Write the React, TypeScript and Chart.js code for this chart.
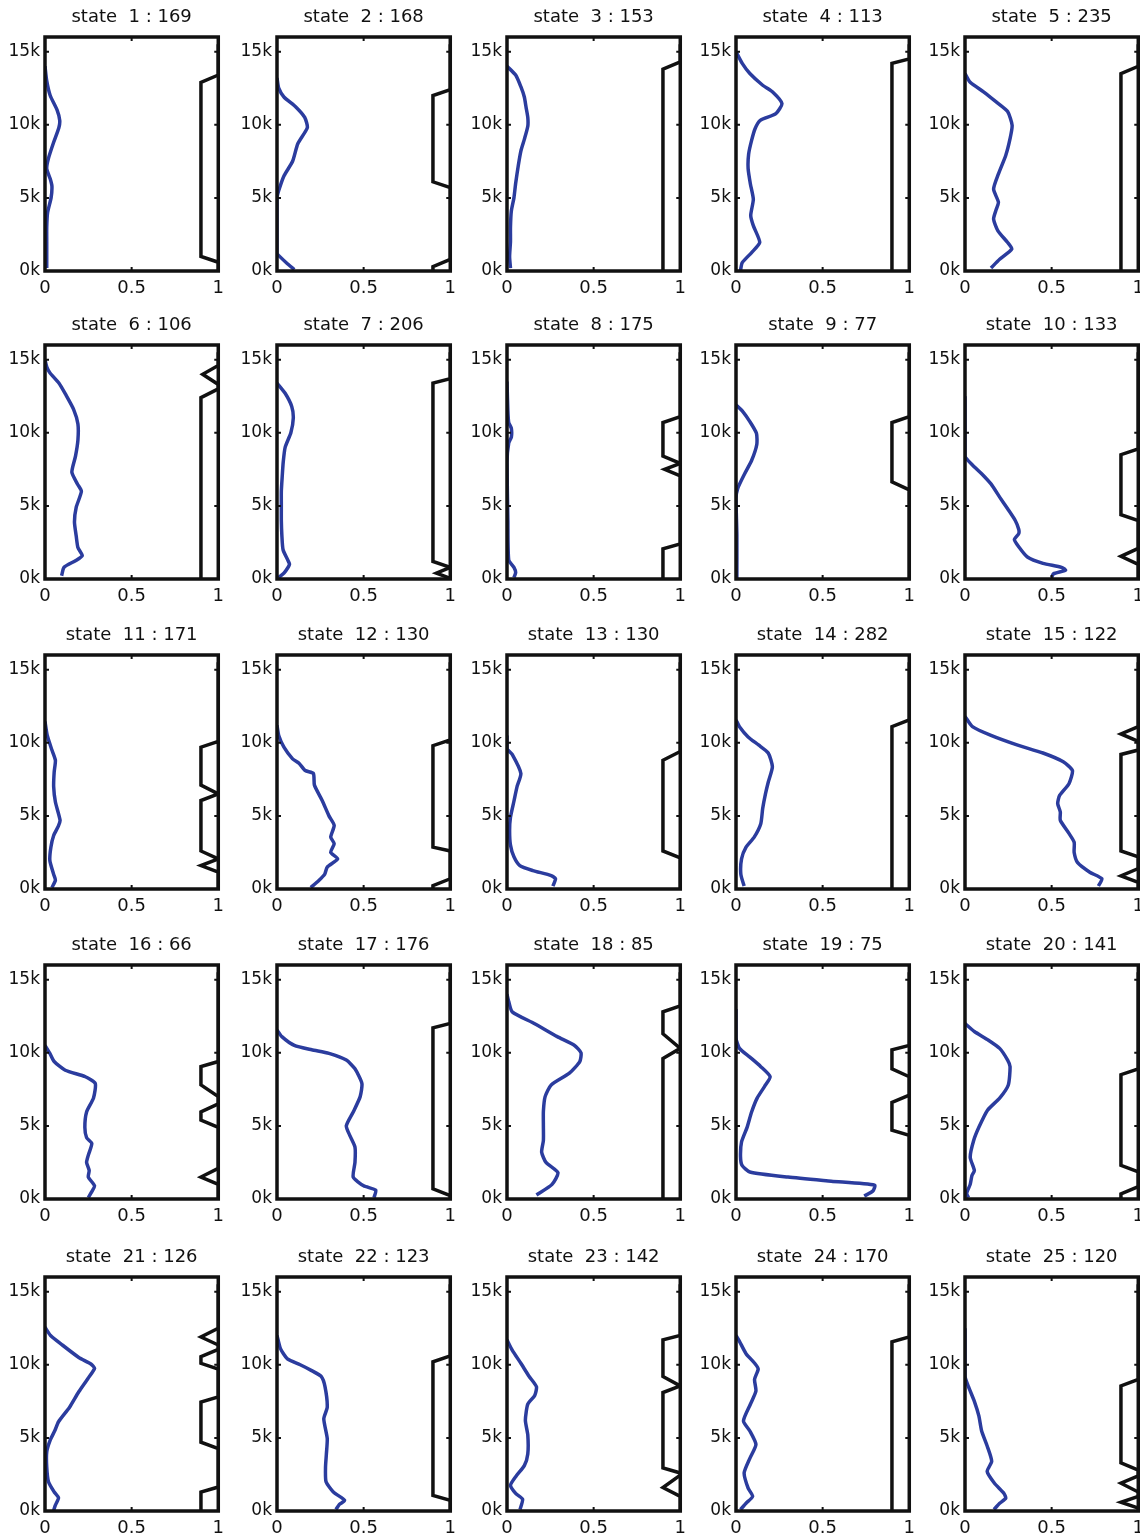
import React, { useEffect, useRef } from "react";
import { Chart, registerables } from "chart.js";

Chart.register(...registerables);

type P = [number, number][];

// ---- data (x = fraction, y = altitude in thousands) ----
const stateCounts = [169, 168, 153, 113, 235, 106, 206, 175, 77, 133, 171, 130, 130, 282, 122, 66, 176, 85, 75, 141, 126, 123, 142, 170, 120];
const xTicks = [0, 0.5, 1];
const xTickLabels = ["0", "0.5", "1"];
const yTicks = [0, 5, 10, 15];
const yTickLabels = ["0k", "5k", "10k", "15k"];

const blue1: P = [[0,14],[0.01,13],[0.03,12],[0.07,11],[0.085,10.3],[0.08,9.8],[0.05,8.8],[0.02,7.7],[0.01,7],[0.03,6.3],[0.04,5.8],[0.035,5],[0.015,4],[0.01,3],[0.01,2],[0.01,1],[0.01,0.2]];
const black1: P = [[1,15.5],[1,13.4],[0.9,12.9],[0.9,1.0],[1,0.6],[1,0]];
const blue2: P = [[0,13.2],[0.01,12.5],[0.04,11.9],[0.11,11.2],[0.16,10.5],[0.175,9.8],[0.12,8.7],[0.09,7.5],[0.04,6.5],[0.01,5.5],[0,5],[0,3],[0,1.2],[0.015,1],[0.06,0.5],[0.1,0.1]];
const black2: P = [[1,15.5],[1,12.4],[0.9,12.0],[0.9,6.1],[1,5.7],[1,0.8],[0.9,0.3],[0.9,0]];
const blue3: P = [[0,14],[0.05,13.4],[0.08,12.6],[0.1,11.9],[0.11,11.2],[0.12,10.5],[0.12,9.9],[0.1,9],[0.08,8.2],[0.065,7.2],[0.05,6],[0.04,5],[0.025,4.1],[0.02,3],[0.02,2],[0.015,1],[0.02,0.2]];
const black3: P = [[1,15.5],[1,14.3],[0.9,13.8],[0.9,0]];
const blue4: P = [[0,15],[0.036,14.2],[0.08,13.5],[0.154,12.7],[0.21,12.25],[0.265,11.45],[0.23,10.76],[0.14,10.3],[0.11,9.73],[0.09,8.93],[0.073,8],[0.07,7],[0.083,5.95],[0.1,4.9],[0.085,3.8],[0.1,3.1],[0.137,1.95],[0.09,1.26],[0.036,0.57],[0.026,0.05]];
const black4: P = [[1,15.5],[1,14.5],[0.9,14.2],[0.9,0]];
const blue5: P = [[0,13.5],[0.03,12.9],[0.107,12.25],[0.18,11.56],[0.246,10.9],[0.272,9.96],[0.26,9.05],[0.235,7.9],[0.193,6.64],[0.165,5.6],[0.193,4.7],[0.18,4.2],[0.165,3.55],[0.19,2.75],[0.246,1.95],[0.27,1.5],[0.2,0.8],[0.15,0.2]];
const black5: P = [[1,15.5],[1,14],[0.9,13.5],[0.9,0]];
const blue6: P = [[0,15],[0.01,14.5],[0.028,14.1],[0.08,13.4],[0.12,12.6],[0.165,11.6],[0.19,10.6],[0.19,9.5],[0.176,8.4],[0.155,7.3],[0.187,6.5],[0.21,6.0],[0.18,4.9],[0.17,3.9],[0.18,2.95],[0.19,2.15],[0.215,1.6],[0.176,1.25],[0.11,0.8],[0.096,0.23]];
const black6: P = [[1,15.5],[1,14.6],[0.91,14.0],[1,13.3],[1,13.0],[0.9,12.4],[0.9,0]];
const blue7: P = [[0,13.4],[0.047,12.7],[0.085,11.8],[0.094,11],[0.08,10],[0.047,9],[0.036,8],[0.03,7],[0.025,6],[0.025,5],[0.025,4],[0.028,3],[0.035,2],[0.064,1.25],[0.072,1.0],[0.04,0.4],[0.01,0.1]];
const black7: P = [[1,15.5],[1,13.7],[0.9,13.4],[0.9,1.2],[1,0.8],[0.92,0.4],[1,0.05]];
const blue8: P = [[0,13.5],[0.005,11.5],[0.01,10.7],[0.025,10.3],[0.025,9.7],[0.01,9.3],[0,8],[0.005,4],[0.01,1.3],[0.04,0.8],[0.05,0.45],[0.04,0.1]];
const black8: P = [[1,15.5],[1,11.1],[0.9,10.7],[0.9,8.4],[1,7.9],[0.91,7.5],[1,7.05],[1,2.4],[0.9,2.06],[0.9,0]];
const blue9: P = [[0,11.9],[0.036,11.5],[0.08,10.76],[0.118,9.96],[0.12,9.2],[0.09,8.1],[0.05,7.2],[0.01,6.2],[0,5.5],[0.005,3],[0.005,0]];
const black9: P = [[1,15.5],[1,11.1],[0.9,10.7],[0.9,6.64],[1,6.1],[1,0]];
const blue10: P = [[0,12.5],[0,8.4],[0.043,7.8],[0.096,7.2],[0.15,6.5],[0.2,5.6],[0.246,4.8],[0.29,4.0],[0.31,3.4],[0.31,3.1],[0.285,2.7],[0.31,2.2],[0.36,1.5],[0.45,1.07],[0.557,0.8],[0.58,0.6],[0.51,0.35],[0.5,0.1]];
const black10: P = [[1,15.5],[1,8.9],[0.9,8.5],[0.9,4.4],[1,4.0],[1,2.1],[0.9,1.55],[1,1.0],[1,0]];
const blue11: P = [[0,11.45],[0.013,10.5],[0.04,9.5],[0.06,8.8],[0.053,8],[0.05,7],[0.06,5.95],[0.087,4.7],[0.077,4.3],[0.05,3.66],[0.034,2.86],[0.028,1.95],[0.05,1.0],[0.06,0.6],[0.04,0.1]];
const black11: P = [[1,15.5],[1,10.1],[0.9,9.7],[0.9,7.1],[1,6.5],[0.9,6.05],[0.9,2.6],[1,2.06],[0.9,1.6],[1,1.15],[1,0]];
const blue12: P = [[0,11.2],[0.01,10.5],[0.04,9.7],[0.09,8.9],[0.127,8.6],[0.163,8.1],[0.21,7.9],[0.216,7.1],[0.26,6.07],[0.3,5.0],[0.33,4.35],[0.31,3.55],[0.33,3.1],[0.31,2.5],[0.35,2.06],[0.29,1.5],[0.275,1.0],[0.24,0.57],[0.195,0.1]];
const black12: P = [[1,15.5],[1,10.2],[0.9,9.8],[0.9,2.86],[1,2.6],[1,0.7],[0.9,0.23],[0.9,0]];
const blue13: P = [[0,10.5],[0,9.6],[0.03,9.2],[0.08,7.9],[0.058,7.0],[0.04,6.0],[0.02,4.9],[0.015,4.0],[0.02,3.0],[0.04,2.2],[0.074,1.6],[0.149,1.26],[0.255,0.92],[0.28,0.7],[0.265,0.2]];
const black13: P = [[1,15.5],[1,9.4],[0.9,8.8],[0.9,2.6],[1,2.13],[1,0]];
const blue14: P = [[0,11.56],[0.02,11.1],[0.07,10.4],[0.13,9.85],[0.186,9.3],[0.21,8.36],[0.186,7.3],[0.17,6.5],[0.154,5.5],[0.143,4.47],[0.105,3.55],[0.058,2.86],[0.032,2.06],[0.028,1.0],[0.047,0.2]];
const black14: P = [[1,15.5],[1,11.56],[0.9,11.1],[0.9,0]];
const blue15: P = [[0,11.8],[0.043,11.1],[0.15,10.5],[0.3,9.85],[0.45,9.3],[0.567,8.7],[0.62,8.1],[0.6,7.2],[0.546,6.4],[0.535,5.84],[0.55,5.27],[0.55,4.7],[0.6,3.8],[0.63,3.2],[0.63,2.5],[0.65,1.8],[0.72,1.15],[0.79,0.7],[0.77,0.2]];
const black15: P = [[1,15.5],[1,11.1],[0.9,10.6],[1,10.1],[1,9.5],[0.9,9.2],[0.9,2.6],[1,2.2],[1,1.4],[0.9,0.9],[1,0.45],[1,0]];
const blue16: P = [[0,10.5],[0.028,9.96],[0.053,9.4],[0.117,8.8],[0.233,8.36],[0.29,7.9],[0.28,6.9],[0.24,5.95],[0.23,4.9],[0.24,4.2],[0.27,3.8],[0.25,3.0],[0.24,2.5],[0.255,1.95],[0.25,1.5],[0.286,0.9],[0.27,0.5],[0.25,0.1]];
const black16: P = [[1,15.5],[1,9.4],[0.9,9.05],[0.9,7.8],[1,7.0],[1,6.5],[0.9,5.95],[0.9,5.4],[1,4.9],[1,2.1],[0.9,1.5],[1,1.0],[1,0]];
const blue17: P = [[0,11.56],[0.028,11.1],[0.1,10.5],[0.2,10.2],[0.3,9.96],[0.4,9.5],[0.45,8.9],[0.49,7.9],[0.48,7.0],[0.44,5.95],[0.4,5.0],[0.42,4.35],[0.45,3.55],[0.45,2.5],[0.44,1.5],[0.5,0.9],[0.57,0.6],[0.56,0.1]];
const black17: P = [[1,15.5],[1,12.0],[0.9,11.7],[0.9,0.7],[1,0.23],[1,0]];
const blue18: P = [[0,14],[0.01,13.5],[0.03,12.8],[0.157,12.0],[0.29,11.1],[0.39,10.5],[0.427,10.0],[0.42,9.4],[0.36,8.6],[0.255,7.8],[0.22,7.0],[0.21,6.0],[0.21,5.0],[0.21,4.0],[0.2,3.2],[0.225,2.5],[0.294,1.8],[0.26,1.0],[0.17,0.27]];
const black18: P = [[1,15.5],[1,13.2],[0.9,12.8],[0.9,11.3],[1,10.3],[0.9,9.6],[0.9,0]];
const blue19: P = [[0,13],[0,11.0],[0.02,10.3],[0.08,9.7],[0.143,9.05],[0.197,8.36],[0.165,7.7],[0.122,6.9],[0.09,5.95],[0.064,4.9],[0.032,3.9],[0.026,2.9],[0.035,2.3],[0.08,1.85],[0.3,1.5],[0.55,1.22],[0.8,0.95],[0.79,0.55],[0.74,0.2]];
const black19: P = [[1,15.5],[1,10.5],[0.9,10.2],[0.9,8.9],[1,8.36],[1,7.1],[0.9,6.6],[0.9,4.7],[1,4.35],[1,0]];
const blue20: P = [[0,12.0],[0.054,11.45],[0.13,10.9],[0.2,10.3],[0.246,9.5],[0.26,9.05],[0.25,7.8],[0.2,6.9],[0.13,6.07],[0.08,4.9],[0.05,4.0],[0.03,2.86],[0.054,1.95],[0.04,1.6],[0.03,1.0],[0.01,0.4],[0.02,0.1]];
const black20: P = [[1,15.5],[1,8.9],[0.9,8.5],[0.9,2.3],[1,1.85],[1,0.85],[0.9,0.35],[0.9,0]];
const blue21: P = [[0,12.56],[0.032,12.0],[0.1,11.35],[0.195,10.5],[0.265,10.05],[0.286,9.75],[0.248,9.06],[0.195,8.15],[0.142,7.1],[0.078,6.1],[0.057,5.5],[0.03,4.84],[0.01,4.04],[0.01,3],[0.02,2.0],[0.053,1.3],[0.078,0.9],[0.06,0.4],[0.05,0.05]];
const black21: P = [[1,15.5],[1,12.5],[0.9,11.9],[1,11.35],[1,11.05],[0.9,10.55],[0.9,10.1],[1,9.7],[1,7.8],[0.9,7.45],[0.9,4.7],[1,4.27],[1,1.64],[0.9,1.3],[0.9,0]];
const blue22: P = [[0,12.0],[0.02,11.1],[0.06,10.4],[0.134,10.0],[0.2,9.6],[0.255,9.2],[0.277,8.5],[0.29,7.1],[0.27,6.3],[0.29,4.95],[0.285,3.9],[0.28,3.0],[0.283,2.0],[0.325,1.3],[0.39,0.73],[0.36,0.45],[0.34,0.1]];
const black22: P = [[1,15.5],[1,10.6],[0.9,10.2],[0.9,1.07],[1,0.73],[1,0]];
const blue23: P = [[0,11.7],[0.03,11],[0.08,10.1],[0.128,9.2],[0.17,8.5],[0.16,7.9],[0.12,7.3],[0.106,6.2],[0.12,5.2],[0.12,3.9],[0.1,3.1],[0.053,2.4],[0.02,1.76],[0.05,1.2],[0.09,0.8],[0.075,0.1]];
const black23: P = [[1,15.5],[1,12.0],[0.9,11.7],[0.9,9.2],[1,8.55],[0.9,8.1],[0.9,2.95],[1,2.6],[1,2.45],[0.9,1.6],[1,1.0],[1,0]];
const blue24: P = [[0,12.0],[0.02,11.6],[0.058,10.76],[0.11,10.07],[0.128,9.7],[0.107,9.0],[0.115,8.2],[0.083,7.3],[0.043,6.16],[0.08,5.47],[0.115,4.55],[0.08,3.6],[0.047,2.6],[0.07,1.56],[0.096,1.0],[0.058,0.53],[0.026,0.1]];
const black24: P = [[1,15.5],[1,11.9],[0.9,11.56],[0.9,0]];
const blue25: P = [[0,12.5],[0,9.2],[0.02,8.5],[0.054,7.5],[0.08,6.5],[0.096,5.47],[0.128,4.44],[0.154,3.4],[0.128,2.7],[0.17,1.9],[0.225,1.2],[0.235,0.87],[0.2,0.53],[0.167,0.1]];
const black25: P = [[1,15.5],[1,9.0],[0.9,8.55],[0.9,3.3],[1,2.8],[1,2.4],[0.9,1.9],[1,1.3],[1,1.0],[0.9,0.6],[1,0.2],[1,0]];

const blueProfiles: P[] = [blue1, blue2, blue3, blue4, blue5, blue6, blue7, blue8, blue9, blue10, blue11, blue12, blue13, blue14, blue15, blue16, blue17, blue18, blue19, blue20, blue21, blue22, blue23, blue24, blue25];
const blackProfiles: P[] = [black1, black2, black3, black4, black5, black6, black7, black8, black9, black10, black11, black12, black13, black14, black15, black16, black17, black18, black19, black20, black21, black22, black23, black24, black25];

// ---- layout ----
const COL_LEFT = [45, 277, 507, 736, 965];
const ROW_TOP = [37, 345, 655, 965, 1277];
const PLOT_W = 175;
const PLOT_H = 234;
const LEFT_GUTTER = 44;
const TITLE_H = 35;
const BOTTOM_H = 32;
const RIGHT_PAD = 11;
const CANVAS_W = LEFT_GUTTER + PLOT_W + RIGHT_PAD;
const CANVAS_H = TITLE_H + PLOT_H + BOTTOM_H;

const FONT = "'DejaVu Sans', 'Liberation Sans', Arial, sans-serif";
const BLUE = "#2b3c9e";
const INK = "#111111";
const TEXT = "#111111";

const framePlugin = {
  id: "frame",
  afterDraw(chart: any) {
    const { ctx, chartArea, scales } = chart;
    const { left, top, right, bottom } = chartArea;
    ctx.save();
    ctx.strokeStyle = INK;
    ctx.lineWidth = 3.5;
    ctx.strokeRect(left, top, right - left, bottom - top);
    ctx.lineWidth = 2;
    ctx.beginPath();
    for (const v of xTicks) {
      const px = scales.x.getPixelForValue(v);
      ctx.moveTo(px, bottom);
      ctx.lineTo(px, bottom - 4);
      ctx.moveTo(px, top);
      ctx.lineTo(px, top + 4);
    }
    for (const v of yTicks) {
      const py = scales.y.getPixelForValue(v);
      ctx.moveTo(left, py);
      ctx.lineTo(left + 4, py);
      ctx.moveTo(right, py);
      ctx.lineTo(right - 4, py);
    }
    ctx.stroke();
    ctx.restore();
  },
};

function Panel({ index }: { index: number }) {
  const ref = useRef<HTMLCanvasElement>(null);
  useEffect(() => {
    if (!ref.current) return;
    const chart = new Chart(ref.current, {
      type: "line",
      data: {
        datasets: [
          {
            data: blackProfiles[index].map(([x, y]) => ({ x, y })),
            borderColor: INK,
            borderWidth: 3.5,
            pointRadius: 0,
            tension: 0,
          },
          {
            data: blueProfiles[index].map(([x, y]) => ({ x, y })),
            borderColor: BLUE,
            borderWidth: 3.5,
            pointRadius: 0,
            tension: 0.2,
          },
        ],
      },
      options: {
        responsive: false,
        maintainAspectRatio: false,
        animation: false,
        events: [],
        layout: { padding: { left: 0, right: RIGHT_PAD, top: 0, bottom: 0 } },
        plugins: {
          legend: { display: false },
          tooltip: { enabled: false },
          title: {
            display: true,
            text: `state  ${index + 1} : ${stateCounts[index]}`,
            fullSize: false,
            color: TEXT,
            font: { family: FONT, size: 18, weight: "normal" },
            padding: { top: 5, bottom: 8.4 },
          },
        },
        scales: {
          x: {
            type: "linear",
            min: 0,
            max: 1,
            grid: { display: false, drawTicks: false },
            border: { display: false },
            afterBuildTicks: (s: any) => {
              s.ticks = xTicks.map((v) => ({ value: v }));
            },
            afterFit: (s: any) => {
              s.height = BOTTOM_H;
            },
            ticks: {
              autoSkip: false,
              maxRotation: 0,
              padding: 7,
              color: TEXT,
              font: { family: FONT, size: 18 },
              callback: (_v: any, i: number) => xTickLabels[i],
            },
          },
          y: {
            type: "linear",
            min: 0,
            max: 16,
            grid: { display: false, drawTicks: false },
            border: { display: false },
            afterBuildTicks: (s: any) => {
              s.ticks = yTicks.map((v) => ({ value: v }));
            },
            afterFit: (s: any) => {
              s.width = LEFT_GUTTER;
            },
            ticks: {
              autoSkip: false,
              padding: 5,
              color: TEXT,
              font: { family: FONT, size: 17 },
              callback: (_v: any, i: number) => yTickLabels[i],
            },
          },
        },
      } as any,
      plugins: [framePlugin],
    });
    return () => chart.destroy();
  }, [index]);

  const r = Math.floor(index / 5);
  const c = index % 5;
  return (
    <canvas
      ref={ref}
      width={CANVAS_W}
      height={CANVAS_H}
      style={{
        position: "absolute",
        left: COL_LEFT[c] - LEFT_GUTTER,
        top: ROW_TOP[r] - TITLE_H,
        width: CANVAS_W,
        height: CANVAS_H,
      }}
    />
  );
}

export default function App() {
  return (
    <div
      style={{
        position: "fixed",
        left: 0,
        top: 0,
        width: 1140,
        height: 1535,
        overflow: "hidden",
        background: "#ffffff",
      }}
    >
      {stateCounts.map((_, i) => (
        <Panel key={i} index={i} />
      ))}
    </div>
  );
}
